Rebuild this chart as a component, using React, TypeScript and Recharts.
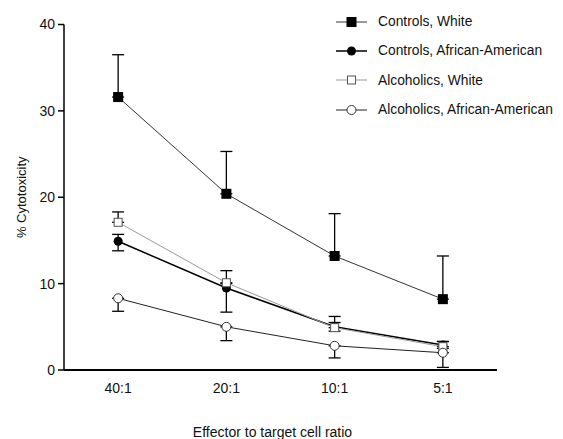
import { CartesianGrid, ErrorBar, Line, LineChart, XAxis, YAxis } from "recharts";

const categories = ["40:1", "20:1", "10:1", "5:1"];

const controlsWhite = [31.6, 20.4, 13.2, 8.2];
const controlsWhiteErr: [number, number][] = [
  [0, 4.9],
  [0, 4.9],
  [0, 4.9],
  [0, 5.0],
];

const controlsAA = [14.9, 9.5, 5.0, 2.9];
const controlsAAErr: [number, number][] = [
  [1.1, 0.8],
  [2.8, 0.5],
  [0.5, 0.5],
  [0.4, 0.4],
];

const alcoholicsWhite = [17.1, 10.1, 4.9, 2.7];
const alcoholicsWhiteErr: [number, number][] = [
  [0, 1.2],
  [0, 1.4],
  [0, 1.3],
  [0, 0.6],
];

const alcoholicsAA = [8.3, 5.0, 2.8, 2.0];
const alcoholicsAAErr: [number, number][] = [
  [1.5, 0],
  [1.6, 0],
  [1.4, 0],
  [1.7, 0],
];

const yTicks = [0, 10, 20, 30, 40];

const data = categories.map((name, i) => ({
  name,
  pos: i + 0.5,
  cw: controlsWhite[i],
  cwErr: controlsWhiteErr[i],
  caa: controlsAA[i],
  caaErr: controlsAAErr[i],
  aw: alcoholicsWhite[i],
  awErr: alcoholicsWhiteErr[i],
  aaa: alcoholicsAA[i],
  aaaErr: alcoholicsAAErr[i],
}));

type MarkerKind = "filledSquare" | "filledCircle" | "openSquare" | "openCircle";

const series: {
  key: string;
  errKey: string;
  label: string;
  marker: MarkerKind;
  stroke: string;
  width: number;
}[] = [
  { key: "cw", errKey: "cwErr", label: "Controls, White", marker: "filledSquare", stroke: "#333", width: 1 },
  { key: "caa", errKey: "caaErr", label: "Controls, African-American", marker: "filledCircle", stroke: "#000", width: 1.5 },
  { key: "aw", errKey: "awErr", label: "Alcoholics, White", marker: "openSquare", stroke: "#999", width: 1 },
  { key: "aaa", errKey: "aaaErr", label: "Alcoholics, African-American", marker: "openCircle", stroke: "#222", width: 1 },
];

const font = '"Liberation Sans", Arial, sans-serif';

function Marker({ kind, cx, cy }: { kind: MarkerKind; cx: number; cy: number }) {
  if (kind === "filledSquare") {
    return <rect x={cx - 5} y={cy - 5} width={10} height={10} fill="#000" />;
  }
  if (kind === "filledCircle") {
    return <circle cx={cx} cy={cy} r={4.5} fill="#000" />;
  }
  if (kind === "openSquare") {
    return (
      <rect x={cx - 4} y={cy - 4} width={8} height={8} fill="#fff" stroke="#555" strokeWidth={1} />
    );
  }
  return <circle cx={cx} cy={cy} r={4.5} fill="#fff" stroke="#333" strokeWidth={1} />;
}

function makeDot(kind: MarkerKind) {
  return (props: { cx?: number; cy?: number; index?: number }) => {
    const { cx = 0, cy = 0, index = 0 } = props;
    return <Marker key={`${kind}-${index}`} kind={kind} cx={cx} cy={cy} />;
  };
}

function LegendBox() {
  return (
    <div style={{ position: "absolute", left: 336, top: 7, fontFamily: font, fontSize: 13.8 }}>
      {series.map((s) => (
        <div key={s.key} style={{ display: "flex", alignItems: "center", height: 29.3 }}>
          <svg width={32} height={14} style={{ marginRight: 10 }}>
            <line x1={0} x2={31} y1={7} y2={7} stroke={s.stroke} strokeWidth={s.width} />
            <Marker kind={s.marker} cx={15.5} cy={7} />
          </svg>
          <span style={{ color: "#111" }}>{s.label}</span>
        </div>
      ))}
    </div>
  );
}

export default function App() {
  return (
    <div
      style={{
        position: "absolute",
        left: 0,
        top: 0,
        width: 563,
        height: 439,
        background: "#fff",
        fontFamily: font,
      }}
    >
      <LineChart
        width={563}
        height={439}
        data={data}
        margin={{ top: 24.5, right: 66, bottom: 0, left: 20 }}
      >
        <CartesianGrid stroke="none" />
        <XAxis
          type="number"
          dataKey="pos"
          domain={[0, 4]}
          ticks={[1, 2, 3, 4]}
          tick={false}
          tickSize={5}
          height={5}
          axisLine={{ stroke: "#000", strokeWidth: 2 }}
          tickLine={{ stroke: "#000", strokeWidth: 1.5 }}
        />
        <XAxis
          xAxisId="labels"
          type="number"
          dataKey="pos"
          domain={[0, 4]}
          ticks={data.map((d) => d.pos)}
          tickFormatter={(v: number) => categories[Math.floor(v)]}
          axisLine={false}
          tickLine={false}
          tickSize={0}
          tickMargin={8}
          height={64}
          tick={{ fill: "#111", fontSize: 14, fontFamily: font }}
          label={{
            content: (props: { viewBox?: { x: number; y: number; width: number; height: number } }) => {
              const vb = props.viewBox;
              if (!vb) return null;
              return (
                <text
                  x={vb.x + vb.width / 2 - 8}
                  y={vb.y + vb.height - 2}
                  textAnchor="middle"
                  fontSize={14}
                  fill="#111"
                  fontFamily={font}
                >
                  Effector to target cell ratio
                </text>
              );
            },
          }}
        />
        <YAxis
          type="number"
          domain={[0, 40]}
          ticks={yTicks}
          width={44}
          tickSize={6}
          tickMargin={3}
          axisLine={{ stroke: "#000", strokeWidth: 1.5 }}
          tickLine={{ stroke: "#000", strokeWidth: 1.5 }}
          tick={{ fill: "#111", fontSize: 14, fontFamily: font }}
          label={{
            value: "% Cytotoxicity",
            angle: -90,
            position: "insideLeft",
            offset: 1,
            fill: "#111",
            fontSize: 13,
            fontFamily: font,
            style: { textAnchor: "middle" },
          }}
        />
        {series.map((s) => (
          <Line
            key={s.key}
            dataKey={s.key}
            type="linear"
            stroke={s.stroke}
            strokeWidth={s.width}
            dot={makeDot(s.marker)}
            activeDot={false}
            isAnimationActive={false}
          >
            <ErrorBar
              dataKey={s.errKey}
              direction="y"
              width={6}
              stroke="#000"
              strokeWidth={1.3}
            />
          </Line>
        ))}
      </LineChart>
      <LegendBox />
    </div>
  );
}
